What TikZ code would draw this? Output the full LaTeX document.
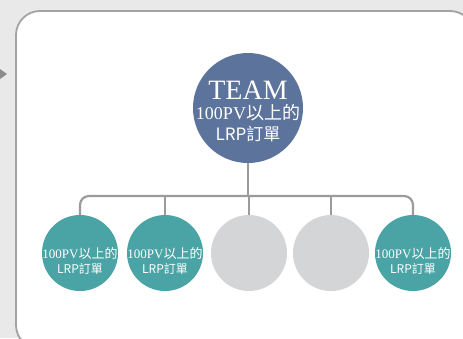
\documentclass[tikz,border=0pt]{standalone}
\usepackage{fontspec}
\setmainfont{Liberation Serif}
\newfontfamily\cjk{Noto Sans CJK TC}
\definecolor{bgc}{HTML}{E9E9E9}
\definecolor{framec}{HTML}{A3A3A3}
\definecolor{linec}{HTML}{9B9B9B}
\definecolor{topc}{HTML}{5C739B}
\definecolor{tealc}{HTML}{4AA3A4}
\definecolor{grayc}{HTML}{D4D5D7}
\definecolor{arrowc}{HTML}{8C8C8C}
\tikzset{
  topcircle/.style={circle, fill=topc, minimum size=110pt, inner sep=0pt, text=white, align=center},
  kid/.style={circle, minimum size=76pt, inner sep=0pt, text=white, align=center, font=\fontsize{13}{15}\selectfont},
  tealkid/.style={kid, fill=tealc},
  graykid/.style={kid, fill=grayc},
  conn/.style={draw=linec, line width=2.2pt},
}
\begin{document}
\begin{tikzpicture}[x=1pt,y=-1pt]
\useasboundingbox (0,0) rectangle (463,338);
\fill[bgc] (0,0) rectangle (463,338);
% frame
\draw[white!80!black, line width=3pt, rounded corners=24pt] (17,12) rectangle (475,350);
\filldraw[fill=white, draw=framec, line width=1.8pt, rounded corners=24pt] (16,11) rectangle (474,349);
% arrow tip on the left
\fill[arrowc] (0,69) -- (7,74) -- (0,79) -- cycle;
% nodes
\node[topcircle] (top) at (248,108) {};
\node[text=white, font=\fontsize{28}{30}\selectfont] (t1) at (248,90) {TEAM};
\node[text=white, font=\fontsize{18}{20}\selectfont, inner sep=0pt] (t2) at (248,113) {100PV{\cjk 以上的}};
\node[text=white, font=\cjk\fontsize{17}{19}\selectfont, inner sep=0pt] (t3) at (248,134) {LRP訂單};
\node[tealkid] (c1) at (80,253) {};
\node[tealkid] (c2) at (165,253) {};
\node[graykid] (c3) at (249,253) {};
\node[graykid] (c4) at (331,253) {};
\node[tealkid] (c5) at (413,253) {};
\foreach \n in {c1,c2,c5}{
  \node[text=white, font=\fontsize{13}{15}\selectfont, inner sep=0pt] at ([yshift=-1pt]\n.center) {100PV{\cjk 以上的}};
  \node[text=white, font=\cjk\fontsize{12}{14}\selectfont, inner sep=0pt] at ([yshift=-16pt]\n.center) {LRP訂單};
}
\coordinate (hub) at (248,196);
% connectors
\draw[conn] (top.south) -- (hub);
\draw[conn, rounded corners=9pt] (c1.north) |- (hub) -| (c5.north);
\draw[conn] (c2.north) -- (c2.north |- hub);
\draw[conn] (c3.north) -- (c3.north |- hub);
\draw[conn] (c4.north) -- (c4.north |- hub);
\end{tikzpicture}
\end{document}
